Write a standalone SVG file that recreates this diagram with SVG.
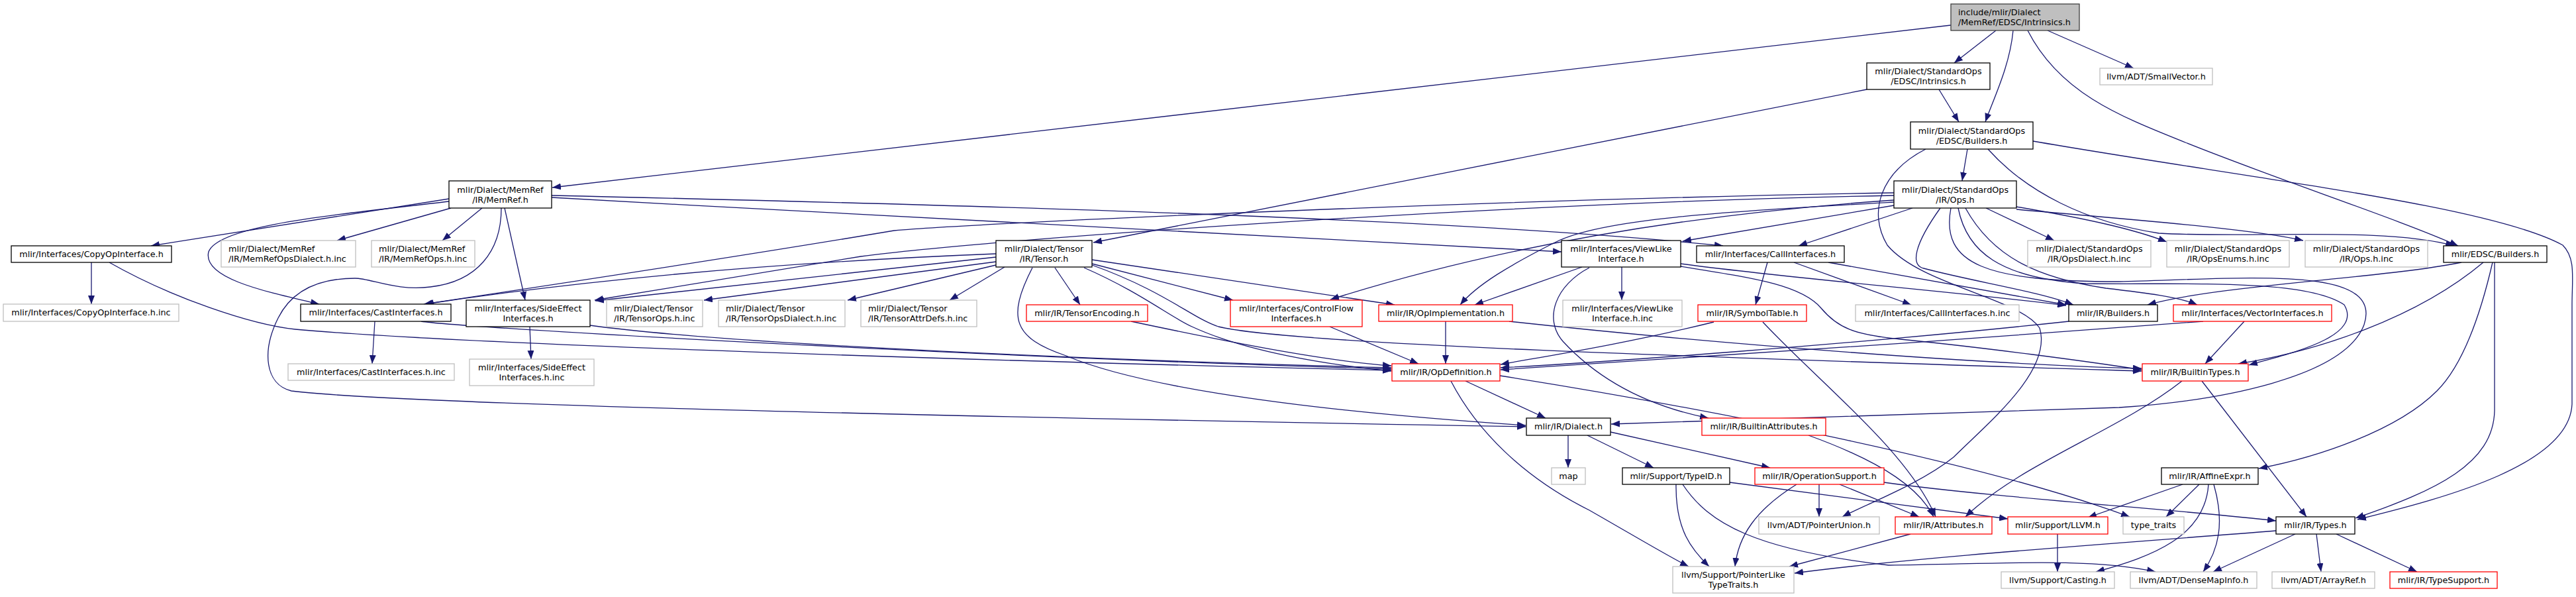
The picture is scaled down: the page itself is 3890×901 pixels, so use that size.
<svg xmlns="http://www.w3.org/2000/svg" width="3890" height="901" viewBox="0 0 3890 901">
<style>
rect{fill:#fff;stroke:#000;stroke-width:1.3}
.g rect{stroke:#bfbfbf}
.r rect{stroke:#ff0000}
.t rect{fill:#bfbfbf;stroke:#404040}
text{font-family:"DejaVu Sans",sans-serif;font-size:12.8px;fill:#000;text-anchor:middle}
text.l{text-anchor:start}
#edges path{fill:none;stroke:#191970;stroke-width:1.3;marker-end:url(#a)}
</style>
<defs><marker id="a" markerUnits="userSpaceOnUse" markerWidth="14" markerHeight="10" refX="13" refY="5" orient="auto"><path d="M0,0L13,5L0,10z" fill="#191970"/></marker></defs>
<rect x="0" y="0" width="3890" height="901" style="fill:#fff;stroke:none"/>
<g id="edges">
<path d="M2946,38L834,283"/>
<path d="M3014,46L2951,95"/>
<path d="M3040,46C3035,100 3010,150 2998,184"/>
<path d="M3062,46C3110,140 3200,175 3300,215C3450,275 3620,330 3712,371"/>
<path d="M3092,46L3222,103"/>
<path d="M2928,135L2958,184"/>
<path d="M2819,135L1651,366"/>
<path d="M2971,225L2963,273"/>
<path d="M3002,225C3060,290 3150,335 3260,352C3400,360 3600,342 3706,371"/>
<path d="M3070,213C3400,270 3760,310 3870,370C3890,390 3884,420 3884,460L3884,610C3880,700 3700,750 3560,784"/>
<path d="M2908,225C2840,260 2820,320 2850,370C2900,430 3050,450 3080,495C3100,560 3000,640 2950,690C2900,730 2820,760 2782,780"/>
<path d="M2860,291C2300,300 1500,335 1350,348C1100,390 800,435 640,459"/>
<path d="M2860,295C2300,305 1500,360 1300,387L898,453"/>
<path d="M2860,302C2600,320 2300,360 2009,452"/>
<path d="M2860,305C2600,320 2420,330 2350,365C2280,400 2230,430 2205,460"/>
<path d="M2860,310L2541,364"/>
<path d="M2888,314L2716,371"/>
<path d="M2999,314L3102,363"/>
<path d="M3045,312C3150,330 3220,345 3272,365"/>
<path d="M3045,316C3200,330 3400,345 3478,363"/>
<path d="M2930,314C2890,370 2885,400 2905,405C2980,425 3080,440 3131,460"/>
<path d="M2968,314C3010,390 3080,420 3180,435C3240,442 3290,448 3318,460"/>
<path d="M2957,314C2970,380 3020,420 3150,428C3300,430 3480,420 3540,460C3570,510 3450,535 3396,551"/>
<path d="M2946,314C2930,400 3000,425 3200,425C3400,420 3600,400 3570,490C3540,570 3350,605 3200,615L2433,640"/>
<path d="M1504,383C1200,395 900,420 642,459"/>
<path d="M1504,388L899,454"/>
<path d="M1504,395L1063,453"/>
<path d="M1504,400L1280,453"/>
<path d="M1517,403L1434,453"/>
<path d="M1559,404C1520,480 1530,510 1610,537C1700,575 1900,615 2304,642"/>
<path d="M1593,404L1631,460"/>
<path d="M1637,404C1720,440 1770,480 1800,493C1880,530 2000,550 2101,560"/>
<path d="M1649,398L1862,453"/>
<path d="M1649,400C1760,440 1800,480 1840,493C1950,520 2600,540 3234,560"/>
<path d="M1649,392L2106,460"/>
<path d="M678,300L228,371"/>
<path d="M681,314L509,363"/>
<path d="M728,314L668,363"/>
<path d="M678,304C500,325 330,340 315,380C305,420 400,440 482,459"/>
<path d="M757,314C757,380 720,425 650,433C600,440 560,420 536,420C480,420 440,440 420,480C395,530 400,580 440,590C600,610 1500,630 2304,644"/>
<path d="M762,314L793,453"/>
<path d="M833,298C1400,330 2000,360 2358,380"/>
<path d="M833,295C1500,310 2200,330 2602,371"/>
<path d="M138,396L138,459"/>
<path d="M165,396C260,450 380,490 446,497C700,520 1500,545 2101,559"/>
<path d="M566,485L562,549"/>
<path d="M636,485C700,495 1500,540 2101,557"/>
<path d="M800,493L802,542"/>
<path d="M891,491C1100,520 1700,545 2101,555"/>
<path d="M1708,485C1850,515 2000,545 2101,552"/>
<path d="M2008,493L2142,549"/>
<path d="M2183,485L2183,549"/>
<path d="M2588,486C2450,520 2320,540 2266,550"/>
<path d="M2662,486C2750,580 2880,680 2923,780"/>
<path d="M2669,396L2651,460"/>
<path d="M2709,396L2886,460"/>
<path d="M2761,396L3120,460"/>
<path d="M2449,403L2449,453"/>
<path d="M2389,403L2227,460"/>
<path d="M2400,404C2350,430 2330,480 2360,515C2420,580 2500,615 2580,631"/>
<path d="M2538,402C2650,420 2720,430 2750,465C2775,495 2800,505 2870,512C3000,525 3150,545 3234,558"/>
<path d="M2538,398C2700,420 2950,440 3120,461"/>
<path d="M3389,485L3330,549"/>
<path d="M3327,485C3000,510 2500,545 2266,558"/>
<path d="M3124,485C2800,520 2400,548 2266,555"/>
<path d="M2279,485C2600,520 3000,550 3234,556"/>
<path d="M2213,575L2334,631"/>
<path d="M2191,575C2230,650 2300,720 2400,770C2470,810 2520,840 2550,855"/>
<path d="M2265,567C2600,620 3000,700 3216,780"/>
<path d="M2368,657L2368,706"/>
<path d="M2397,657L2497,706"/>
<path d="M2432,652L2673,706"/>
<path d="M2731,657C2850,700 2900,740 2920,780"/>
<path d="M2531,731C2530,800 2555,830 2581,855"/>
<path d="M2541,731C2580,790 2650,830 2852,853C3000,852 3150,840 3255,863"/>
<path d="M2612,728L3032,783"/>
<path d="M2747,731L2747,780"/>
<path d="M2713,731C2650,770 2625,810 2620,855"/>
<path d="M2778,731L2898,780"/>
<path d="M2845,728C3000,750 3300,770 3437,786"/>
<path d="M2885,806L2702,855"/>
<path d="M3107,806L3107,863"/>
<path d="M3437,801C3200,820 2900,840 2710,865"/>
<path d="M3466,806L3342,863"/>
<path d="M3498,806L3505,863"/>
<path d="M3528,806L3650,863"/>
<path d="M3296,731L3153,781"/>
<path d="M3321,731L3271,780"/>
<path d="M3335,731C3330,810 3250,840 3165,863"/>
<path d="M3343,731C3360,790 3350,830 3327,863"/>
<path d="M3325,575L3483,780"/>
<path d="M3295,575C3200,650 3050,700 2968,780"/>
<path d="M3717,396C3600,420 3350,430 3243,460"/>
<path d="M3750,396C3650,480 3500,530 3380,549"/>
<path d="M3764,396C3740,500 3710,560 3680,590C3620,650 3500,690 3411,707"/>
<path d="M3767,396L3767,620C3765,700 3680,740 3557,782"/>
</g>
<g id="n0" class="t"><rect x="2946" y="6" width="194" height="40"/><text class="l" x="2957" y="23">include/mlir/Dialect</text><text class="l" x="2957" y="38">/MemRef/EDSC/Intrinsics.h</text></g>
<g id="sei"><rect x="2819" y="95" width="186" height="40"/><text x="2912" y="112">mlir/Dialect/StandardOps</text><text x="2912" y="127">/EDSC/Intrinsics.h</text></g>
<g id="sv" class="g"><rect x="3171" y="103" width="170" height="25"/><text x="3256" y="120">llvm/ADT/SmallVector.h</text></g>
<g id="seb"><rect x="2885" y="184" width="185" height="41"/><text x="2977.5" y="201.5">mlir/Dialect/StandardOps</text><text x="2977.5" y="216.5">/EDSC/Builders.h</text></g>
<g id="memref"><rect x="678" y="273" width="155" height="41"/><text x="755.5" y="290.5">mlir/Dialect/MemRef</text><text x="755.5" y="305.5">/IR/MemRef.h</text></g>
<g id="ops"><rect x="2860" y="273" width="185" height="41"/><text x="2952.5" y="290.5">mlir/Dialect/StandardOps</text><text x="2952.5" y="305.5">/IR/Ops.h</text></g>
<g id="copy"><rect x="17" y="371" width="242" height="25"/><text x="138" y="388">mlir/Interfaces/CopyOpInterface.h</text></g>
<g id="mrd" class="g"><rect x="334" y="363" width="203" height="40"/><text class="l" x="345" y="380">mlir/Dialect/MemRef</text><text class="l" x="345" y="395">/IR/MemRefOpsDialect.h.inc</text></g>
<g id="mro" class="g"><rect x="561" y="363" width="156" height="40"/><text class="l" x="572" y="380">mlir/Dialect/MemRef</text><text class="l" x="572" y="395">/IR/MemRefOps.h.inc</text></g>
<g id="tensor"><rect x="1504" y="363" width="145" height="40"/><text x="1576.5" y="380">mlir/Dialect/Tensor</text><text x="1576.5" y="395">/IR/Tensor.h</text></g>
<g id="view"><rect x="2358" y="363" width="180" height="40"/><text x="2448" y="380">mlir/Interfaces/ViewLike</text><text x="2448" y="395">Interface.h</text></g>
<g id="call"><rect x="2562" y="371" width="223" height="25"/><text x="2673.5" y="388">mlir/Interfaces/CallInterfaces.h</text></g>
<g id="opsd" class="g"><rect x="3062" y="363" width="186" height="40"/><text x="3155" y="380">mlir/Dialect/StandardOps</text><text x="3155" y="395">/IR/OpsDialect.h.inc</text></g>
<g id="opse" class="g"><rect x="3272" y="363" width="185" height="40"/><text x="3364.5" y="380">mlir/Dialect/StandardOps</text><text x="3364.5" y="395">/IR/OpsEnums.h.inc</text></g>
<g id="opsinc" class="g"><rect x="3481" y="363" width="185" height="40"/><text x="3573.5" y="380">mlir/Dialect/StandardOps</text><text x="3573.5" y="395">/IR/Ops.h.inc</text></g>
<g id="eb"><rect x="3690" y="371" width="156" height="25"/><text x="3768" y="388">mlir/EDSC/Builders.h</text></g>
<g id="copyinc" class="g"><rect x="5" y="459" width="265" height="26"/><text x="137.5" y="476">mlir/Interfaces/CopyOpInterface.h.inc</text></g>
<g id="cast"><rect x="454" y="459" width="227" height="26"/><text x="567.5" y="476">mlir/Interfaces/CastInterfaces.h</text></g>
<g id="se"><rect x="704" y="453" width="187" height="40"/><text x="797.5" y="470">mlir/Interfaces/SideEffect</text><text x="797.5" y="485">Interfaces.h</text></g>
<g id="tops" class="g"><rect x="916" y="453" width="145" height="40"/><text class="l" x="927" y="470">mlir/Dialect/Tensor</text><text class="l" x="927" y="485">/IR/TensorOps.h.inc</text></g>
<g id="tod" class="g"><rect x="1085" y="453" width="191" height="40"/><text class="l" x="1096" y="470">mlir/Dialect/Tensor</text><text class="l" x="1096" y="485">/IR/TensorOpsDialect.h.inc</text></g>
<g id="tad" class="g"><rect x="1300" y="453" width="175" height="40"/><text class="l" x="1311" y="470">mlir/Dialect/Tensor</text><text class="l" x="1311" y="485">/IR/TensorAttrDefs.h.inc</text></g>
<g id="tenc" class="r"><rect x="1550" y="460" width="183" height="25"/><text x="1641.5" y="477">mlir/IR/TensorEncoding.h</text></g>
<g id="cf" class="r"><rect x="1858" y="453" width="199" height="40"/><text x="1957.5" y="470">mlir/Interfaces/ControlFlow</text><text x="1957.5" y="485">Interfaces.h</text></g>
<g id="opimpl" class="r"><rect x="2082" y="460" width="202" height="25"/><text x="2183" y="477">mlir/IR/OpImplementation.h</text></g>
<g id="viewinc" class="g"><rect x="2360" y="453" width="180" height="40"/><text x="2450" y="470">mlir/Interfaces/ViewLike</text><text x="2450" y="485">Interface.h.inc</text></g>
<g id="sym" class="r"><rect x="2564" y="460" width="164" height="25"/><text x="2646" y="477">mlir/IR/SymbolTable.h</text></g>
<g id="callinc" class="g"><rect x="2802" y="460" width="247" height="25"/><text x="2925.5" y="477">mlir/Interfaces/CallInterfaces.h.inc</text></g>
<g id="irb"><rect x="3124" y="460" width="134" height="25"/><text x="3191" y="477">mlir/IR/Builders.h</text></g>
<g id="vec" class="r"><rect x="3282" y="460" width="239" height="25"/><text x="3401.5" y="477">mlir/Interfaces/VectorInterfaces.h</text></g>
<g id="castinc" class="g"><rect x="435" y="549" width="251" height="25"/><text x="560.5" y="566">mlir/Interfaces/CastInterfaces.h.inc</text></g>
<g id="seinc" class="g"><rect x="709" y="542" width="188" height="40"/><text x="803" y="559">mlir/Interfaces/SideEffect</text><text x="803" y="574">Interfaces.h.inc</text></g>
<g id="opdef" class="r"><rect x="2102" y="549" width="163" height="26"/><text x="2183.5" y="566">mlir/IR/OpDefinition.h</text></g>
<g id="btypes" class="r"><rect x="3235" y="549" width="160" height="26"/><text x="3315" y="566">mlir/IR/BuiltinTypes.h</text></g>
<g id="dialect"><rect x="2305" y="631" width="127" height="26"/><text x="2368.5" y="648">mlir/IR/Dialect.h</text></g>
<g id="battr" class="r"><rect x="2570" y="631" width="187" height="26"/><text x="2663.5" y="648">mlir/IR/BuiltinAttributes.h</text></g>
<g id="map" class="g"><rect x="2343" y="706" width="51" height="25"/><text x="2368.5" y="723">map</text></g>
<g id="typeid"><rect x="2450" y="706" width="162" height="25"/><text x="2531" y="723">mlir/Support/TypeID.h</text></g>
<g id="opsup" class="r"><rect x="2650" y="706" width="195" height="25"/><text x="2747.5" y="723">mlir/IR/OperationSupport.h</text></g>
<g id="affine"><rect x="3264" y="706" width="146" height="25"/><text x="3337" y="723">mlir/IR/AffineExpr.h</text></g>
<g id="punion" class="g"><rect x="2656" y="780" width="182" height="26"/><text x="2747" y="797">llvm/ADT/PointerUnion.h</text></g>
<g id="attr" class="r"><rect x="2862" y="780" width="146" height="26"/><text x="2935" y="797">mlir/IR/Attributes.h</text></g>
<g id="llvm" class="r"><rect x="3032" y="780" width="151" height="26"/><text x="3107.5" y="797">mlir/Support/LLVM.h</text></g>
<g id="tt" class="g"><rect x="3206" y="780" width="92" height="26"/><text x="3252" y="797">type_traits</text></g>
<g id="types"><rect x="3437" y="780" width="119" height="26"/><text x="3496.5" y="797">mlir/IR/Types.h</text></g>
<g id="pltt" class="g"><rect x="2526" y="855" width="183" height="40"/><text x="2617.5" y="872">llvm/Support/PointerLike</text><text x="2617.5" y="887">TypeTraits.h</text></g>
<g id="casting" class="g"><rect x="3022" y="863" width="171" height="25"/><text x="3107.5" y="880">llvm/Support/Casting.h</text></g>
<g id="dmi" class="g"><rect x="3217" y="863" width="191" height="25"/><text x="3312.5" y="880">llvm/ADT/DenseMapInfo.h</text></g>
<g id="aref" class="g"><rect x="3431" y="863" width="155" height="25"/><text x="3508.5" y="880">llvm/ADT/ArrayRef.h</text></g>
<g id="tsup" class="r"><rect x="3609" y="863" width="162" height="25"/><text x="3690" y="880">mlir/IR/TypeSupport.h</text></g>
</svg>
